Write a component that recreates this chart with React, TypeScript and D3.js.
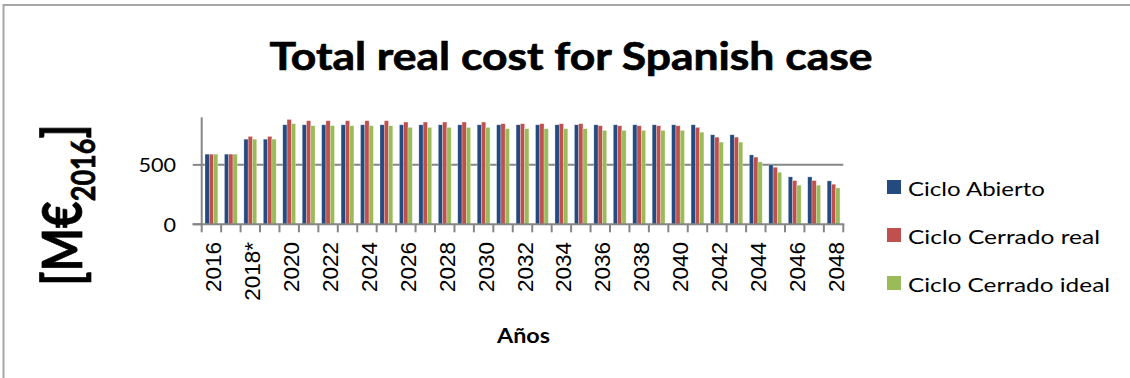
import React from "react";
import * as d3 from "d3";

const categories: string[] = [
  "2016","2017","2018*","2019","2020","2021","2022","2023","2024","2025",
  "2026","2027","2028","2029","2030","2031","2032","2033","2034","2035",
  "2036","2037","2038","2039","2040","2041","2042","2043","2044","2045",
  "2046","2047","2048",
];

const cicloAbierto: number[] = [
  590,590,716,716,837,837,837,837,837,837,
  837,837,837,837,837,837,837,837,837,837,
  837,837,837,837,837,837,753,753,584,500,
  399,399,365,
];

const cicloCerradoReal: number[] = [
  590,590,739,739,882,871,871,871,871,871,
  860,860,860,860,860,846,846,846,846,846,
  829,829,829,829,829,815,733,733,565,480,
  368,368,337,
];

const cicloCerradoIdeal: number[] = [
  590,590,716,716,846,829,829,829,829,829,
  815,815,815,815,815,804,804,804,804,804,
  790,790,790,790,790,775,691,691,525,438,
  329,329,306,
];

const seriesNames: string[] = ["Ciclo Abierto", "Ciclo Cerrado real", "Ciclo Cerrado ideal"];
const seriesColors: string[] = ["#234B80", "#C0504D", "#9BBB59"];
const legendWidths: number[] = [137, 192, 202];
const yTicks: number[] = [0, 500];
const yMax = 900;

const W = 1130;
const H = 378;
const plot = { left: 201.7, right: 843.3, top: 117.3, bottom: 224.3 };
const CAL = "Lato, 'Open Sans', sans-serif";

export default function App() {
  const seriesData = [cicloAbierto, cicloCerradoReal, cicloCerradoIdeal];
  const x = d3.scaleBand<string>().domain(categories).range([plot.left, plot.right]).padding(0);
  const bw = x.bandwidth();
  const inner = d3
    .scaleBand<number>()
    .domain([0, 1, 2])
    .range([bw * 0.17, bw * 0.83])
    .padding(0);
  const y = d3.scaleLinear().domain([0, yMax]).range([plot.bottom, plot.top]);
  const axisColor = "#868686";

  const boundaries = d3.range(categories.length + 1).map((i) => plot.left + i * bw);

  return (
    <svg
      width={W}
      height={H}
      style={{ position: "absolute", left: 0, top: 0, background: "#fff" }}
    >
      <rect x={0} y={0} width={W} height={H} fill="#fff" />
      <rect x={3.5} y={5} width={1300} height={600} fill="none" stroke="#a6a6a6" strokeWidth={2} />

      <text
        x={571}
        y={70}
        textAnchor="middle"
        fontFamily={CAL}
        fontWeight={700}
        fontSize={39}
        textLength={603}
        lengthAdjust="spacingAndGlyphs"
        fill="#000"
        stroke="#000"
        strokeWidth={0.7}
      >
        Total real cost for Spanish case
      </text>

      {/* gridline at 500 */}
      {yTicks
        .filter((t) => t > 0)
        .map((t) => (
          <line
            key={"g" + t}
            x1={plot.left}
            x2={plot.right}
            y1={y(t)}
            y2={y(t)}
            stroke={axisColor}
            strokeWidth={2}
          />
        ))}

      {/* bars */}
      {categories.map((c, i) => (
        <g key={c}>
          {seriesData.map((s, k) => (
            <rect
              key={k}
              x={(x(c) as number) + (inner(k) as number)}
              y={y(s[i])}
              width={inner.bandwidth()}
              height={y(0) - y(s[i])}
              fill={seriesColors[k]}
              stroke="#ffffff"
              strokeOpacity={0.45}
              strokeWidth={0.6}
            />
          ))}
        </g>
      ))}

      {/* y axis */}
      <line x1={plot.left} x2={plot.left} y1={plot.top} y2={plot.bottom + 1} stroke={axisColor} strokeWidth={2} />
      {yTicks.map((t) => (
        <g key={"yt" + t}>
          <line x1={plot.left - 9} x2={plot.left} y1={y(t)} y2={y(t)} stroke={axisColor} strokeWidth={2} />
          <g transform={`translate(176,${y(t) + 7.5}) scale(1.08,1)`}>
            <text x={0} y={0} textAnchor="end" fontFamily={CAL} fontSize={20} fill="#000">
              {t}
            </text>
          </g>
        </g>
      ))}

      {/* x axis */}
      <line x1={plot.left - 9} x2={plot.right + 1} y1={plot.bottom} y2={plot.bottom} stroke={axisColor} strokeWidth={2} />
      {boundaries.map((bx, i) => (
        <line key={"xt" + i} x1={bx} x2={bx} y1={plot.bottom} y2={plot.bottom + 8} stroke={axisColor} strokeWidth={2} />
      ))}
      {categories.map((c, i) =>
        i % 2 === 0 ? (
          <text
            key={"xl" + c}
            transform={`translate(${(x(c) as number) + bw / 2 + 10},${242}) rotate(-90)`}
            textAnchor="end"
            fontFamily="'Liberation Sans', Arial, sans-serif"
            fontSize={22.5}
            fill="#000"
          >
            {c}
          </text>
        ) : null
      )}

      {/* x axis title */}
      <text
        x={523.5}
        y={343}
        textAnchor="middle"
        fontFamily={CAL}
        fontWeight={700}
        fontSize={20.5}
        textLength={53}
        lengthAdjust="spacingAndGlyphs"
        fill="#000"
      >
        Años
      </text>

      {/* y axis title */}
      <g transform="translate(82,205) scale(1.2,1) rotate(-90)">
        <text
          x={0}
          y={0}
          textAnchor="middle"
          fontFamily={CAL}
          fontWeight={700}
          fontSize={46}
          fill="#000"
          stroke="#000"
          strokeWidth={0.6}
        >
          [M€
          <tspan fontSize={27} dy={11}>2016</tspan>
          <tspan dy={-11}>]</tspan>
        </text>
      </g>

      {/* legend */}
      {seriesNames.map((n, k) => (
        <g key={n} transform={`translate(887,${180 + k * 48})`}>
          <rect x={0} y={0} width={14} height={14} fill={seriesColors[k]} />
          <text
            x={21}
            y={15.5}
            fontFamily={CAL}
            fontSize={20}
            textLength={legendWidths[k]}
            lengthAdjust="spacingAndGlyphs"
            fill="#000"
          >
            {n}
          </text>
        </g>
      ))}
    </svg>
  );
}
